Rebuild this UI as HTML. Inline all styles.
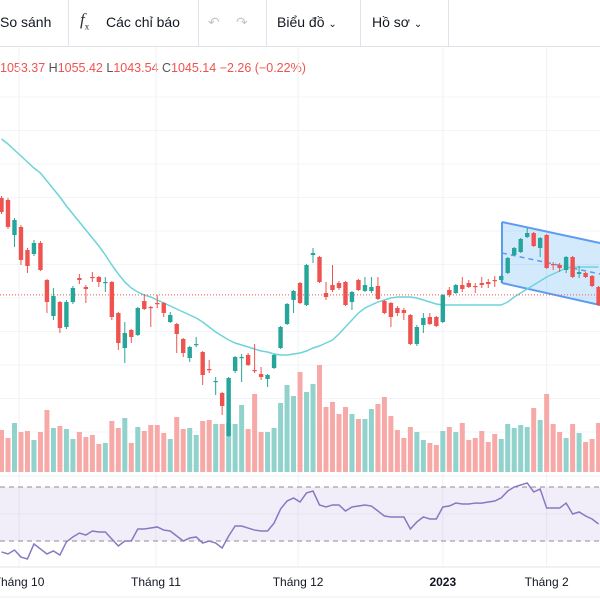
<!DOCTYPE html>
<html><head><meta charset="utf-8"><style>
html,body{margin:0;padding:0;width:600px;height:600px;overflow:hidden;background:#fff;font-family:"Liberation Sans","Noto Sans CJK SC",sans-serif;}
#tb{position:absolute;left:0;top:0;width:600px;height:46px;border-bottom:1px solid #e0e3eb;font-size:14px;color:#131722;}
#tb .it{position:absolute;top:14px;white-space:nowrap}
#tb .sep{position:absolute;top:0;width:1px;height:46px;background:#e0e3eb}
#ohlc{position:absolute;left:0;top:61px;font-size:12.5px;color:#ef5350;white-space:nowrap}
#ohlc b{font-weight:normal;color:#555}
svg{position:absolute;left:0;top:0}
</style></head><body>
<div id="tb">
<span class="it" style="left:0">So sánh</span>
<div class="sep" style="left:68px"></div>
<span class="it" style="left:80px;top:10px;font-size:17px;font-style:italic;font-family:'Liberation Serif',serif;color:#333">f<sub style="font-size:9px;font-style:normal">x</sub></span>
<span class="it" style="left:106px">Các chỉ báo</span>
<div class="sep" style="left:198px"></div>
<span class="it" style="left:208px;color:#c4c6ce">↶</span>
<span class="it" style="left:236px;color:#c4c6ce">↷</span>
<div class="sep" style="left:266px"></div>
<span class="it" style="left:277px">Biểu đồ <span style="font-size:10px">⌄</span></span>
<div class="sep" style="left:360px"></div>
<span class="it" style="left:372px">Hồ sơ <span style="font-size:10px">⌄</span></span>
<div class="sep" style="left:448px"></div>
</div>
<div id="ohlc">1053.37 <b>H</b>1055.42 <b>L</b>1043.54 <b>C</b>1045.14 −2.26 (−0.22%)</div>
<svg id="ch" width="600" height="600"></svg>
<script>
const opens=[1142,1140,1105,1113,1090,1086,1097,1060,1024,1038,1013,1038,1062,1053,1063,1063,1057,1058,1027,992,1010,1005,1039,1033,1037,1037,1018,1016,1001,982,995,988,971,958,947,904,969,982,985,970,966,961,972,992,1016,1040,1057,1035,1085,1083,1047,1055,1057,1058,1038,1060,1049,1049,1054,1039,1037,1032,1030,1025,996,1015,1023,1023,1018,1050,1047,1055,1057,1054,1057,1058,1060,1060,1067,1085,1088,1103,1107,1092,1105,1076,1075,1070,1083,1066,1067,1064,1053];
const highs=[1144,1142,1122,1115,1092,1100,1099,1061,1052,1039,1040,1054,1066,1055,1068,1064,1063,1059,1028,1018,1011,1033,1046,1034,1045,1038,1028,1017,1002,994,1003,989,980,963,948,963,984,986,987,996,973,966,986,1014,1037,1050,1058,1076,1092,1084,1058,1075,1059,1059,1049,1061,1063,1063,1063,1040,1038,1034,1032,1026,1015,1027,1027,1024,1046,1053,1056,1063,1060,1057,1063,1061,1064,1065,1083,1093,1102,1112,1108,1103,1106,1078,1077,1084,1084,1074,1068,1065,1054];
const lows=[1126,1111,1093,1075,1067,1084,1069,1027,1020,1007,1011,1036,1056,1037,1058,1053,1048,1020,990,977,997,1004,1030,1013,1032,1023,1017,987,983,978,993,955,967,945,925,903,967,958,974,967,960,953,971,991,1015,1027,1036,1034,1077,1057,1040,1048,1050,1034,1030,1049,1048,1047,1040,1026,1013,1024,1020,995,994,1007,1015,1013,1017,1043,1046,1048,1052,1047,1052,1052,1053,1057,1066,1084,1087,1102,1093,1083,1071,1070,1068,1067,1062,1062,1062,1053,1034];
const closes=[1128,1113,1120,1080,1074,1097,1070,1038,1044,1012,1038,1052,1060,1051,1062,1058,1058,1023,997,1007,1003,1032,1031,1032,1036,1027,1025,1006,987,993,996,965,970,959,934,962,983,983,975,969,963,965,985,1013,1036,1049,1037,1075,1087,1058,1043,1050,1052,1035,1048,1050,1055,1053,1041,1027,1023,1027,1027,996,1013,1022,1016,1014,1045,1045,1055,1051,1053,1053,1055,1056,1059,1064,1082,1092,1101,1107,1094,1102,1072,1075,1072,1083,1063,1068,1063,1054,1035];
const volumes=[42,34,49,40,41,32,40,62,44,46,43,33,40,35,37,28,29,51,44,54,29,45,41,47,47,39,33,55,43,44,37,51,52,48,48,49,48,67,43,78,40,40,44,69,87,76,100,80,88,107,65,70,58,65,58,53,53,63,68,75,56,42,34,45,40,32,29,27,41,45,40,49,32,34,41,30,38,33,48,44,47,45,64,52,78,48,40,34,48,39,30,33,49];
const maValues=[1201,1196,1190,1184,1178,1172,1167,1159,1151,1143,1134,1126,1118,1110,1102,1094,1085,1075,1066,1058,1052,1048,1045,1043,1040,1037,1034,1031,1028,1025,1022,1018,1013,1008,1004,1000,997,995,993,991,989,988,986,985,985,986,987,989,992,994,997,1000,1006,1013,1020,1027,1032,1035,1038,1040,1042,1043,1043,1043,1042,1040,1038,1036,1035,1035,1035,1035,1035,1035,1035,1035,1035,1035,1038,1043,1047,1051,1055,1059,1063,1066,1069,1072,1073,1073,1073,1073,1073];
const rsiValues=[21.9,20.4,23.3,18.1,16.7,27.8,24.1,20.4,22.6,19.6,29.3,33.0,35.9,34.4,37.4,36.7,36.7,31.5,26.3,30,30,38.9,38.9,39.6,40.4,38.1,37.4,33.7,30,32.2,33.0,28.5,30,28.5,24.8,33.7,41.1,41.1,39.6,38.1,37.4,37.4,43.3,53.7,59.6,61.9,58.9,65.6,67.0,56.7,55.2,56.7,56.7,52.2,55.2,55.9,56.7,55.9,52.2,48.5,47.8,47.8,47.8,38.9,44.1,47.8,46.3,46.3,55.2,55.9,58.1,57.4,57.4,58.1,58.1,58.9,59.6,61.9,67.0,70,71.5,73.0,66.3,68.5,54.4,54.4,54.4,58.1,50,51.5,48.5,46.3,42.6];
const timeLabels=["Tháng 10","Tháng 11","Tháng 12","2023","Tháng 2"];
const timeLabelIdx=[2.7,23.8,45.7,68,84];
const lastPrice=1045.14;
const rsiLevels=[70,30];

const NS="http://www.w3.org/2000/svg";
const svg=document.getElementById('ch');
const xS=i=>1.5+6.49*i;
const yP=p=>1340-p;
const yV=v=>472-v;
const yR=r=>541-(r-30)*1.35;
function mk(t,a,p){const e=document.createElementNS(NS,t);for(const k in a)e.setAttribute(k,a[k]);(p||svg).appendChild(e);return e;}

// grid
for(let y=97;y<470;y+=33.5){const g=mk('line',{x1:0,x2:600,y1:y,y2:y,stroke:'#f3f4f7','stroke-width':1});

}
timeLabelIdx.forEach(i=>{const g=mk('line',{x1:xS(i),x2:xS(i),y1:47,y2:567,stroke:'#f0f1f5','stroke-width':1});

});

// volume
volumes.forEach((v,i)=>{const up=closes[i]>=opens[i];
const r=mk('rect',{x:xS(i)-2.5,y:yV(v),width:5,height:v,fill:up?'#92d2cc':'#f7a9a7'});

});

// channel drawing
const ch=mk('polygon',{points:'502,222 600,243 600,305 502,283',fill:'rgba(33,150,243,0.2)',stroke:'none'});


[[502,222,600,243],[502,283,600,305],[502,222,502,283]].forEach(l=>{const e=mk('line',{x1:l[0],y1:l[1],x2:l[2],y2:l[3],stroke:'#5b9cf0','stroke-width':2});

});
const md=mk('line',{x1:502,y1:253,x2:600,y2:274,stroke:'#5b9cf0','stroke-width':1.5,'stroke-dasharray':'5,4'});



// MA
const ma=mk('polyline',{points:maValues.map((v,i)=>xS(i)+','+yP(v)).join(' '),fill:'none',stroke:'#6dd3da','stroke-width':1.5});



// last price line
const lp=mk('line',{x1:0,x2:600,y1:yP(lastPrice),y2:yP(lastPrice),stroke:'#ef5350','stroke-width':1,'stroke-dasharray':'1,2'});



// candles
opens.forEach((o,i)=>{const c=closes[i],up=c>=o,col=up?'#26a69a':'#ef5350',x=xS(i);
const g=mk('g',{});


mk('line',{x1:x,x2:x,y1:yP(highs[i]),y2:yP(lows[i]),stroke:col,'stroke-width':1},g);
const t=yP(Math.max(o,c)),h=Math.max(1.2,Math.abs(o-c));
mk('rect',{x:x-2.2,y:t,width:4.4,height:h,fill:col},g);});

// RSI pane
mk('line',{x1:0,x2:600,y1:476,y2:476,stroke:'#eef0f4'});
const band=mk('rect',{x:0,y:yR(rsiLevels[0]),width:600,height:yR(rsiLevels[1])-yR(rsiLevels[0]),fill:'rgba(126,87,194,0.1)'});


mk('line',{x1:0,x2:600,y1:yR(50),y2:yR(50),stroke:'#e6e2f0'});
rsiLevels.forEach(l=>{const e=mk('line',{x1:0,x2:600,y1:yR(l),y2:yR(l),stroke:'#8c8e96','stroke-width':1,'stroke-dasharray':'5,4'});

});
const rl=mk('polyline',{points:rsiValues.map((v,i)=>xS(i)+','+yR(v)).join(' '),fill:'none',stroke:'#8878c3','stroke-width':1.5});



// time axis
const ax=mk('line',{x1:0,x2:600,y1:567,y2:567,stroke:'#e0e3eb'});


mk('line',{x1:0,x2:600,y1:597,y2:597,stroke:'#eceef2'});
timeLabels.forEach((t,k)=>{const e=mk('text',{x:xS(timeLabelIdx[k]),y:586,'text-anchor':'middle','font-size':12,fill:'#131722','font-family':'Liberation Sans, sans-serif','font-weight':t==='2023'?'bold':'normal'});
e.textContent=t;

});
</script>
</body></html>
